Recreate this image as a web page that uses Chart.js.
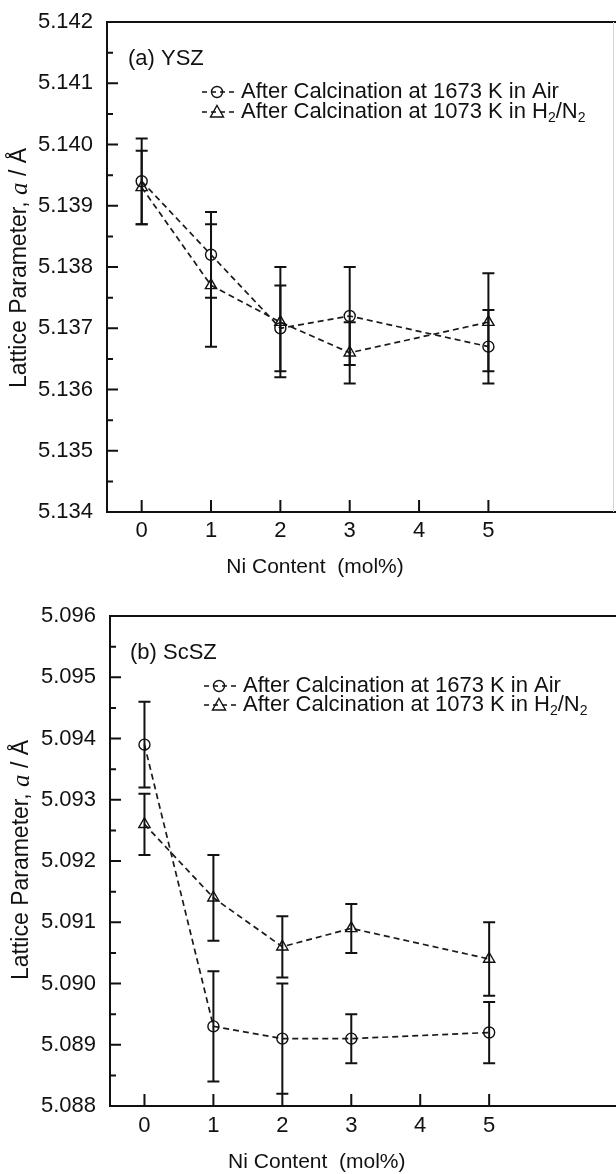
<!DOCTYPE html>
<html>
<head>
<meta charset="utf-8">
<script src="https://cdn.jsdelivr.net/npm/chart.js@4"></script>
<style>
  html, body { margin: 0; padding: 0; background: #fff; overflow: hidden; }
  .panel { position: absolute; left: 0; }
</style>
</head>
<body>
<canvas id="chartYSZ" class="panel" width="616" height="587" style="top:0"></canvas>
<canvas id="chartScSZ" class="panel" width="616" height="587" style="top:587px"></canvas>
<script>
// --- data ---
const niContent = [0, 1, 2, 3, 5];
const xTicks = [0, 1, 2, 3, 4, 5];
const seriesLabels = ['After Calcination at 1673 K in Air', 'After Calcination at 1073 K in H\u2082/N\u2082'];

// (a) YSZ
const yszTicks = [5.134, 5.135, 5.136, 5.137, 5.138, 5.139, 5.140, 5.141, 5.142];
const yszAir = [5.1394, 5.1382, 5.1370, 5.1372, 5.1367];
const yszAirErr = [0.0007, 0.0007, 0.0007, 0.0008, 0.0006];
const yszH2 = [5.1393, 5.1377, 5.1371, 5.1366, 5.1371];
const yszH2Err = [0.0006, 0.0010, 0.0009, 0.0005, 0.0008];

// (b) ScSZ
const scszTicks = [5.088, 5.089, 5.090, 5.091, 5.092, 5.093, 5.094, 5.095, 5.096];
const scszAir = [5.0939, 5.0893, 5.0891, 5.0891, 5.0892];
const scszAirErr = [0.0007, 0.0009, 0.0009, 0.0004, 0.0005];
const scszH2 = [5.0926, 5.0914, 5.0906, 5.0909, 5.0904];
const scszH2Err = [0.0005, 0.0007, 0.0005, 0.0004, 0.0006];

const FONT = '"Liberation Sans", Arial, Helvetica, sans-serif';
const INK = '#111';

// draw a string where '₂' becomes a small lowered 2
function drawSubText(ctx, text, x, y, size) {
    const parts = text.split('\u2082');
    let cx = x;
    parts.forEach((p, i) => {
        ctx.font = size + 'px ' + FONT;
        ctx.fillText(p, cx, y);
        cx += ctx.measureText(p).width;
        if (i < parts.length - 1) {
            ctx.font = Math.round(size * 0.62) + 'px ' + FONT;
            ctx.fillText('2', cx, y + size * 0.28);
            cx += ctx.measureText('2').width;
        }
    });
}

function drawMarker(ctx, style, x, y) {
    ctx.save();
    ctx.strokeStyle = INK;
    ctx.lineWidth = 1.4;
    ctx.setLineDash([]);
    ctx.beginPath();
    if (style === 'circle') {
        ctx.arc(x, y, 5.5, 0, Math.PI * 2);
    } else {
        ctx.moveTo(x, y - 6.5);
        ctx.lineTo(x + 6.5, y + 5);
        ctx.lineTo(x - 6.5, y + 5);
        ctx.closePath();
    }
    ctx.stroke();
    ctx.restore();
}

// frame, inward ticks, error bars, legend and titles
const decorPlugin = {
    id: 'decor',
    afterDatasetsDraw(chart) {
        const ctx = chart.ctx;
        const o = chart.options.plugins.decor;
        const xs = chart.scales.x, ys = chart.scales.y;
        const a = chart.chartArea;
        ctx.save();
        ctx.strokeStyle = INK;
        ctx.fillStyle = INK;

        // error bars
        ctx.lineWidth = 2;
        chart.data.datasets.forEach(ds => {
            ds.data.forEach((pt, i) => {
                const px = xs.getPixelForValue(pt.x);
                const hi = ys.getPixelForValue(pt.y + ds.err[i]);
                const lo = ys.getPixelForValue(pt.y - ds.err[i]);
                ctx.beginPath();
                ctx.moveTo(px, hi); ctx.lineTo(px, lo);
                ctx.moveTo(px - 6, hi); ctx.lineTo(px + 6, hi);
                ctx.moveTo(px - 6, lo); ctx.lineTo(px + 6, lo);
                ctx.stroke();
            });
        });

        // frame (the right side is cut off in the original)
        ctx.lineWidth = 2;
        ctx.beginPath();
        ctx.moveTo(a.right + 2, a.top); ctx.lineTo(a.left, a.top);
        ctx.lineTo(a.left, a.bottom); ctx.lineTo(a.right + 2, a.bottom);
        ctx.stroke();
        if (o.rightEdge) {
            ctx.save();
            ctx.strokeStyle = '#d4d4d4';
            ctx.lineWidth = 1;
            ctx.beginPath();
            ctx.moveTo(613.5, a.top); ctx.lineTo(613.5, a.bottom);
            ctx.stroke();
            ctx.restore();
        }

        // y ticks: major + minor, inward
        const yt = o.yTicks;
        ctx.beginPath();
        yt.forEach((v, i) => {
            const py = ys.getPixelForValue(v);
            ctx.moveTo(a.left, py); ctx.lineTo(a.left + 11, py);
            if (i < yt.length - 1) {
                const pm = ys.getPixelForValue((v + yt[i + 1]) / 2);
                ctx.moveTo(a.left, pm); ctx.lineTo(a.left + 6, pm);
            }
        });
        // x ticks inward
        xTicks.forEach(v => {
            const px = xs.getPixelForValue(v);
            ctx.moveTo(px, a.bottom); ctx.lineTo(px, a.bottom - 12);
        });
        ctx.stroke();

        // panel label
        ctx.font = '22px ' + FONT;
        ctx.textBaseline = 'middle';
        ctx.textAlign = 'left';
        ctx.fillText(o.panel, o.panelX, o.panelY);

        // legend
        chart.data.datasets.forEach((ds, i) => {
            const ly = o.legendY + i * o.legendGap;
            const lx = o.legendX;
            ctx.save();
            ctx.lineWidth = 1.5;
            ctx.setLineDash([5, 4]);
            ctx.beginPath();
            ctx.moveTo(lx, ly); ctx.lineTo(lx + 34, ly);
            ctx.stroke();
            ctx.restore();
            drawMarker(ctx, ds.pointStyle, lx + 15, ly);
            drawSubText(ctx, ds.label, lx + 39, ly, 22);
        });

        // x title
        ctx.font = '21px ' + FONT;
        ctx.textAlign = 'center';
        const cx = (xs.getPixelForValue(0) + xs.getPixelForValue(5)) / 2;
        ctx.fillText('Ni Content  (mol%)', cx, o.xTitleY);

        // y title, rotated, with italic a
        const segs = [
            ['Lattice Parameter, ', '23px ' + FONT],
            ['a', 'italic 25px "Liberation Serif", "Times New Roman", serif'],
            [' / \u00C5', '23px ' + FONT]
        ];
        let total = 0;
        segs.forEach(s => { ctx.font = s[1]; total += ctx.measureText(s[0]).width; });
        ctx.translate(o.yTitleX, o.yTitleY);
        ctx.rotate(-Math.PI / 2);
        ctx.textAlign = 'left';
        let sx = -total / 2;
        segs.forEach(s => { ctx.font = s[1]; ctx.fillText(s[0], sx, 0); sx += ctx.measureText(s[0]).width; });
        ctx.restore();
    }
};

function makeSeries(ys, err, label, style) {
    return {
        label: label,
        data: niContent.map((x, i) => ({ x: x, y: ys[i] })),
        err: err,
        showLine: true,
        borderColor: '#1a1a1a',
        borderWidth: 1.7,
        borderDash: [6, 4],
        pointStyle: style,
        pointRadius: style === 'circle' ? 5.5 : 6.5,
        pointBackgroundColor: 'rgba(0,0,0,0)',
        pointBorderColor: INK,
        pointBorderWidth: 1.4,
        fill: false
    };
}

function renderPanel(id, g, yTicks, airVals, airErr, h2Vals, h2Err) {
    const ctx = document.getElementById(id).getContext('2d');
    return new Chart(ctx, {
        type: 'scatter',
        data: {
            datasets: [
                makeSeries(airVals, airErr, seriesLabels[0], 'circle'),
                makeSeries(h2Vals, h2Err, seriesLabels[1], 'triangle')
            ]
        },
        options: {
            responsive: false,
            animation: false,
            devicePixelRatio: 1,
            layout: { autoPadding: false, padding: { top: g.top, right: 0, left: 0, bottom: 0 } },
            plugins: {
                legend: { display: false },
                tooltip: { enabled: false },
                decor: g
            },
            scales: {
                x: {
                    type: 'linear',
                    min: -0.5,
                    max: 6.84,
                    afterBuildTicks: s => { s.ticks = xTicks.map(v => ({ value: v })); },
                    afterFit: s => {
                        s.height = 587 - g.bottom;
                        s.paddingLeft = 0;
                        s.paddingRight = 0;
                    },
                    grid: { display: false, drawTicks: false },
                    border: { display: false },
                    ticks: {
                        color: INK,
                        padding: g.xPad,
                        font: { family: FONT, size: 22 },
                        maxRotation: 0,
                        callback: v => String(v)
                    }
                },
                y: {
                    type: 'linear',
                    min: yTicks[0],
                    max: yTicks[yTicks.length - 1],
                    afterBuildTicks: s => { s.ticks = yTicks.map(v => ({ value: v })); },
                    afterFit: s => {
                        s.width = g.left;
                        s.paddingTop = 0;
                        s.paddingBottom = 0;
                    },
                    grid: { display: false, drawTicks: false },
                    border: { display: false },
                    ticks: {
                        color: INK,
                        padding: 14,
                        font: { family: FONT, size: 22 },
                        callback: v => v.toFixed(3)
                    }
                }
            }
        },
        plugins: [decorPlugin]
    });
}

document.addEventListener('DOMContentLoaded', function () {
    renderPanel('chartYSZ', {
        top: 22, bottom: 512, left: 107, xPad: 6,
        yTicks: yszTicks, panel: '(a) YSZ', panelX: 128, panelY: 59,
        legendX: 202, legendY: 92, legendGap: 20,
        xTitleY: 567, yTitleX: 20, yTitleY: 268, rightEdge: true
    }, yszTicks, yszAir, yszAirErr, yszH2, yszH2Err);

    renderPanel('chartScSZ', {
        top: 29, bottom: 519, left: 110, xPad: 7,
        yTicks: scszTicks, panel: '(b) ScSZ', panelX: 130, panelY: 66,
        legendX: 204, legendY: 99, legendGap: 19,
        xTitleY: 575, yTitleX: 22, yTitleY: 273, rightEdge: false
    }, scszTicks, scszAir, scszAirErr, scszH2, scszH2Err);
});
</script>
</body>
</html>
